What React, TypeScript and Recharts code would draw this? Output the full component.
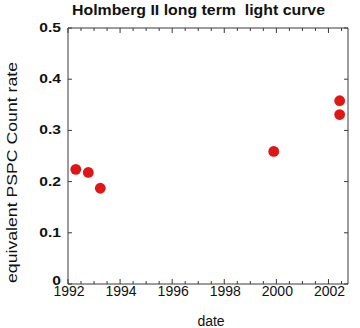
import React from 'react';
import { ScatterChart, Scatter, XAxis, YAxis } from 'recharts';

const dates = [1992.3, 1992.78, 1993.24, 1999.9, 2002.43, 2002.43];
const rates = [0.224, 0.218, 0.187, 0.259, 0.358, 0.331];
const xTicks = [
  1992, 1992.5, 1993, 1993.5, 1994, 1994.5, 1995, 1995.5, 1996, 1996.5, 1997, 1997.5,
  1998, 1998.5, 1999, 1999.5, 2000, 2000.5, 2001, 2001.5, 2002, 2002.5,
];
const xLabels = [1992, 1994, 1996, 1998, 2000, 2002];
const yTicks = [0, 0.1, 0.2, 0.3, 0.4, 0.5];
const yLabels = ['0', '0.1', '0.2', '0.3', '0.4', '0.5'];
const title = 'Holmberg II long term  light curve';
const xTitle = 'date';
const yTitle = 'equivalent PSPC Count rate';

const data = dates.map((d, i) => ({ date: d, rate: rates[i] }));

const AXIS = '#3a3a3a';
const FONT = '"Liberation Sans", Arial, Helvetica, sans-serif';

const BottomTick = (props: any) => {
  const { x, y, payload } = props;
  const v = payload.value;
  const labeled = xLabels.includes(v);
  return (
    <g>
      <line x1={x} x2={x} y1={y} y2={y - (labeled ? 5 : 3)} stroke={AXIS} strokeWidth={1} />
      {labeled && (
        <text x={x + 1} y={y + 12} textAnchor="middle" fontSize={14} fontFamily={FONT} fill="#111">
          {String(v)}
        </text>
      )}
    </g>
  );
};

const TopTick = (props: any) => {
  const { x, y, payload } = props;
  const labeled = xLabels.includes(payload.value);
  return <line x1={x} x2={x} y1={y} y2={y + (labeled ? 5 : 3)} stroke={AXIS} strokeWidth={1} />;
};

const LeftTick = (props: any) => {
  const { x, y, payload } = props;
  const label = yLabels[yTicks.indexOf(payload.value)] ?? String(payload.value);
  return (
    <g>
      <line x1={x} x2={x + 4} y1={y} y2={y} stroke={AXIS} strokeWidth={1} />
      <g transform={`translate(${x - 7},${y + (payload.value === 0 ? 1 : 4)}) scale(1.2,1)`}>
        <text x={0} y={0} textAnchor="end" fontSize={13} fontWeight="bold" fontFamily={FONT} fill="#111">
          {label}
        </text>
      </g>
    </g>
  );
};

const RightTick = (props: any) => {
  const { x, y } = props;
  return <line x1={x} x2={x - 4} y1={y} y2={y} stroke={AXIS} strokeWidth={1} />;
};

const Dot = (props: any) => {
  const { cx, cy } = props;
  return <circle cx={cx} cy={cy} r={5.4} fill="#e01515" />;
};

export default function App() {
  return (
    <div style={{ position: 'absolute', left: 0, top: 0, width: 360, height: 328, background: '#fff' }}>
      <ScatterChart width={360} height={328} margin={{ top: 0, right: 0, bottom: 0, left: 0 }}>
        <XAxis
          xAxisId="b"
          dataKey="date"
          type="number"
          orientation="bottom"
          domain={[1992, 2002.75]}
          ticks={xTicks}
          interval={0}
          height={44}
          tickSize={0}
          tickMargin={0}
          tickLine={false}
          tick={<BottomTick />}
          axisLine={{ stroke: AXIS, strokeWidth: 1 }}
          allowDataOverflow
        />
        <XAxis
          xAxisId="t"
          dataKey="date"
          type="number"
          orientation="top"
          domain={[1992, 2002.75]}
          ticks={xTicks}
          interval={0}
          height={28}
          tickSize={0}
          tickMargin={0}
          tickLine={false}
          tick={<TopTick />}
          axisLine={{ stroke: AXIS, strokeWidth: 1 }}
          allowDataOverflow
        />
        <YAxis
          yAxisId="l"
          dataKey="rate"
          type="number"
          orientation="left"
          domain={[0, 0.5]}
          ticks={yTicks}
          interval={0}
          width={68}
          tickSize={0}
          tickMargin={0}
          tickLine={false}
          tick={<LeftTick />}
          axisLine={{ stroke: AXIS, strokeWidth: 1 }}
          allowDataOverflow
        />
        <YAxis
          yAxisId="r"
          dataKey="rate"
          type="number"
          orientation="right"
          domain={[0, 0.5]}
          ticks={yTicks}
          interval={0}
          width={12}
          tickSize={0}
          tickMargin={0}
          tickLine={false}
          tick={<RightTick />}
          axisLine={{ stroke: AXIS, strokeWidth: 1 }}
          allowDataOverflow
        />
        <Scatter
          data={data}
          xAxisId="b"
          yAxisId="l"
          shape={<Dot />}
          isAnimationActive={false}
        />
      </ScatterChart>
      <svg
        width={360}
        height={328}
        style={{ position: 'absolute', left: 0, top: 0, pointerEvents: 'none' }}
      >
        <text
          x={72}
          y={15}
          textLength={253}
          lengthAdjust="spacingAndGlyphs"
          fontSize={14}
          fontWeight="bold"
          fontFamily={FONT}
          fill="#111"
          style={{ whiteSpace: 'pre' }}
        >
          {title}
        </text>
        <text x={211} y={326} textAnchor="middle" fontSize={14} fontFamily={FONT} fill="#111">
          {xTitle}
        </text>
        <text
          transform="translate(17,283) rotate(-90)"
          x={0}
          y={0}
          textLength={221}
          lengthAdjust="spacingAndGlyphs"
          fontSize={14}
          fontFamily={FONT}
          fill="#111"
        >
          {yTitle}
        </text>
      </svg>
    </div>
  );
}
